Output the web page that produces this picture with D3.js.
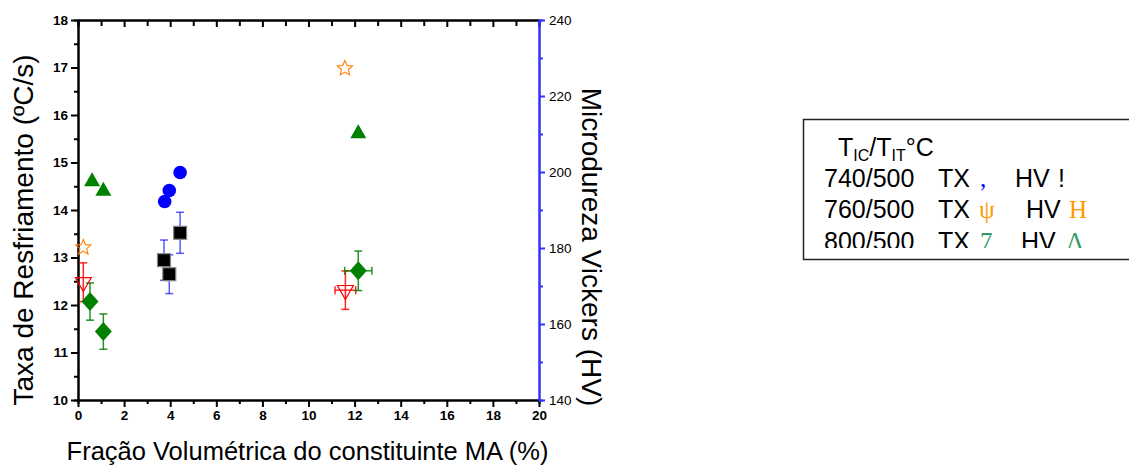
<!DOCTYPE html>
<html>
<head>
<meta charset="utf-8">
<script src="https://cdn.jsdelivr.net/npm/d3@7/dist/d3.min.js"></script>
<style>
  body { margin: 0; background: #fff; }
  svg text { font-family: "Liberation Sans", Arial, sans-serif; }
</style>
</head>
<body>
<div id="chart"></div>
<script>
// taxa de resfriamento (TX, eixo esquerdo)
var tx740 = [[3.76, 14.18], [3.96, 14.41], [4.43, 14.79]];
var tx760 = [[0.23, 13.21], [11.58, 16.98]];
var tx800 = [[0.61, 14.6], [1.1, 14.4], [12.16, 15.61]];

// microdureza (HV, eixo direito): x, hv, erro hv, erro x
var hv740 = [[3.73, 176.8, 5.3, 0], [3.96, 173.1, 5.1, 0], [4.43, 184.0, 5.4, 0]];
var hv760 = [[0.23, 171.0, 5.1, 0], [11.6, 168.9, 5.05, 0.45]];
var hv800 = [[0.52, 165.9, 4.9, 0], [1.1, 158.0, 4.65, 0], [12.16, 174.0, 5.2, 0.59]];

var xDomain = [0, 20];
var txDomain = [10, 18];
var hvDomain = [140, 240];
var xTicks = [0, 2, 4, 6, 8, 10, 12, 14, 16, 18, 20];
var txTicks = [10, 11, 12, 13, 14, 15, 16, 17, 18];
var hvTicks = [140, 160, 180, 200, 220, 240];

var W = 1129, H = 467;
var pLeft = 78, pRight = 539, pTop = 20, pBottom = 400;

var svg = d3.select("#chart").append("svg")
	.attr("width", W).attr("height", H);

var x = d3.scaleLinear().domain(xDomain).range([pLeft, pRight]);
var yTx = d3.scaleLinear().domain(txDomain).range([pBottom, pTop]);
var yHv = d3.scaleLinear().domain(hvDomain).range([pBottom, pTop]);

function minors(ticks, step) {
	var out = [];
	for (var i = 0; i < ticks.length - 1; i++) out.push(ticks[i] + step);
	return out;
}

/*
 * eixos
 */
var gB = svg.append("g").attr("transform", "translate(0," + pBottom + ")");
gB.call(d3.axisBottom(x).tickValues(xTicks).tickSize(7).tickSizeOuter(0).tickPadding(3));
gB.append("g").call(d3.axisBottom(x).tickValues(minors(xTicks, 1)).tickSize(4).tickFormat(""));

var gT = svg.append("g").attr("transform", "translate(0," + pTop + ")");
gT.call(d3.axisBottom(x).tickValues(xTicks).tickSize(7).tickSizeOuter(0).tickFormat(""));
gT.append("g").call(d3.axisBottom(x).tickValues(minors(xTicks, 1)).tickSize(6).tickFormat(""));

var gL = svg.append("g").attr("transform", "translate(" + pLeft + ",0)");
gL.call(d3.axisLeft(yTx).tickValues(txTicks).tickSize(7).tickSizeOuter(0).tickPadding(3));
gL.append("g").call(d3.axisLeft(yTx).tickValues(minors(txTicks, 0.5)).tickSize(4).tickFormat(""));

var gR = svg.append("g").attr("transform", "translate(" + pRight + ",0)");
gR.call(d3.axisRight(yHv).tickValues(hvTicks).tickSize(6).tickSizeOuter(0).tickPadding(4));
gR.append("g").call(d3.axisRight(yHv).tickValues(minors(hvTicks, 10)).tickSize(4).tickFormat(""));

[gB, gT, gL].forEach(function(g) {
	g.selectAll("path, line").attr("stroke", "#000").attr("stroke-width", 2);
	g.selectAll("text").attr("fill", "#000").style("font-size", "13.5px").style("font-weight", "bold");
});
gR.selectAll("path, line").attr("stroke", "#3333ff").attr("stroke-width", 2);
gR.selectAll("text").attr("fill", "#000").style("font-size", "13.5px");

/*
 * titulos
 */
svg.append("text")
	.attr("transform", "translate(33,230) rotate(-90)")
	.attr("text-anchor", "middle")
	.style("font-size", "28px")
	.text("Taxa de Resfriamento (ºC/s)");

svg.append("text")
	.attr("transform", "translate(582,247) rotate(90)")
	.attr("text-anchor", "middle")
	.style("font-size", "28px")
	.text("Microdureza Vickers (HV)");

svg.append("text")
	.attr("x", (pLeft + pRight) / 2 - 1).attr("y", 460)
	.attr("text-anchor", "middle")
	.style("font-size", "25.5px")
	.text("Fração Volumétrica do constituinte MA (%)");

/*
 * barras de erro
 */
function errBars(data, color, opacity) {
	var g = svg.append("g").attr("stroke", color).attr("stroke-width", 1.5)
		.attr("stroke-opacity", opacity).attr("fill", "none");
	data.forEach(function(d) {
		var cx = x(d[0]), cy = yHv(d[1]);
		var y0 = yHv(d[1] + d[2]), y1 = yHv(d[1] - d[2]);
		g.append("line").attr("x1", cx).attr("x2", cx).attr("y1", y0).attr("y2", y1);
		g.append("line").attr("x1", cx - 4).attr("x2", cx + 4).attr("y1", y0).attr("y2", y0);
		g.append("line").attr("x1", cx - 4).attr("x2", cx + 4).attr("y1", y1).attr("y2", y1);
		if (d[3] > 0) {
			var x0 = x(d[0] - d[3]), x1 = x(d[0] + d[3]);
			g.append("line").attr("x1", x0).attr("x2", x1).attr("y1", cy).attr("y2", cy);
			g.append("line").attr("x1", x0).attr("x2", x0).attr("y1", cy - 4).attr("y2", cy + 4);
			g.append("line").attr("x1", x1).attr("x2", x1).attr("y1", cy - 4).attr("y2", cy + 4);
		}
	});
}

errBars(hv740, "#0000ff", 0.65);
errBars(hv760, "#ff0000", 0.85);
errBars(hv800, "#008000", 0.85);

/*
 * simbolos
 */
function triUp(w, h) {
	return "M0," + (-2 * h / 3) + "L" + (w / 2) + "," + (h / 3) + "L" + (-w / 2) + "," + (h / 3) + "Z";
}
function triDown(w, h) {
	return "M0," + (2 * h / 3) + "L" + (w / 2) + "," + (-h / 3) + "L" + (-w / 2) + "," + (-h / 3) + "Z";
}
function diamond(w, h) {
	return "M0," + (-h) + "L" + w + ",0L0," + h + "L" + (-w) + ",0Z";
}
function star(ro, ri) {
	var p = "";
	for (var i = 0; i < 10; i++) {
		var r = i % 2 ? ri : ro;
		var a = -Math.PI / 2 + i * Math.PI / 5;
		p += (i ? "L" : "M") + (r * Math.cos(a)).toFixed(2) + "," + (r * Math.sin(a)).toFixed(2);
	}
	return p + "Z";
}

svg.append("g").selectAll("path").data(tx800).enter().append("path")
	.attr("d", triUp(16, 14))
	.attr("transform", function(d) { return "translate(" + x(d[0]) + "," + yTx(d[1]) + ")"; })
	.attr("fill", "#008000");

svg.append("g").selectAll("circle").data(tx740).enter().append("circle")
	.attr("cx", function(d) { return x(d[0]); })
	.attr("cy", function(d) { return yTx(d[1]); })
	.attr("r", 6.8)
	.attr("fill", "#0000ff");

svg.append("g").selectAll("path").data(tx760).enter().append("path")
	.attr("d", star(8, 3.6))
	.attr("transform", function(d) { return "translate(" + x(d[0]) + "," + yTx(d[1]) + ")"; })
	.attr("fill", "none").attr("stroke", "#ff8000").attr("stroke-width", 1.1);

svg.append("g").selectAll("rect").data(hv740).enter().append("rect")
	.attr("x", function(d) { return x(d[0]) - 6.5; })
	.attr("y", function(d) { return yHv(d[1]) - 6.5; })
	.attr("width", 13).attr("height", 13)
	.attr("fill", "#000").attr("stroke", "#888").attr("stroke-width", 1.2);

svg.append("g").selectAll("path").data(hv760).enter().append("path")
	.attr("d", triDown(16, 14))
	.attr("transform", function(d) { return "translate(" + x(d[0]) + "," + yHv(d[1]) + ")"; })
	.attr("fill", "none").attr("stroke", "#ff0000").attr("stroke-width", 1.2);

svg.append("g").selectAll("path").data(hv800).enter().append("path")
	.attr("d", diamond(8.5, 9.5))
	.attr("transform", function(d) { return "translate(" + x(d[0]) + "," + yHv(d[1]) + ")"; })
	.attr("fill", "#008000");

/*
 * legenda
 */
var leg = svg.append("g");
svg.append("clipPath").attr("id", "legclip")
	.append("rect").attr("x", 800).attr("y", 115).attr("width", 340).attr("height", 133);

leg.append("path")
	.attr("d", "M1132,119.5H803.5V259.5H1132")
	.attr("fill", "none").attr("stroke", "#222").attr("stroke-width", 1.5);

var lt = leg.append("g").attr("clip-path", "url(#legclip)").style("font-size", "25px");

var head = lt.append("text").attr("x", 838).attr("y", 156);
head.append("tspan").text("T");
head.append("tspan").attr("dy", 5).style("font-size", "16px").text("IC");
head.append("tspan").attr("dy", -5).text("/T");
head.append("tspan").attr("dy", 5).style("font-size", "16px").text("IT");
head.append("tspan").attr("dy", -5).text("°C");

var rows = [
	{ y: 187, t: "740/500", g1: ",", c1: "#0000ff", x1: 980, hx: 1015, g2: "!", c2: "#000", x2: 1058, serif2: false },
	{ y: 218, t: "760/500", g1: "ψ", c1: "#ff9900", x1: 979, hx: 1026, g2: "H", c2: "#ff9900", x2: 1069, serif2: true },
	{ y: 250, t: "800/500", g1: "7", c1: "#339966", x1: 980, hx: 1021, g2: "Λ", c2: "#339966", x2: 1066, serif2: true }
];

rows.forEach(function(r) {
	lt.append("text").attr("x", 824).attr("y", r.y).text(r.t);
	lt.append("text").attr("x", 938).attr("y", r.y).text("TX");
	lt.append("text").attr("x", r.x1).attr("y", r.y).attr("fill", r.c1)
		.style("font-family", "'Liberation Serif', serif").text(r.g1);
	lt.append("text").attr("x", r.hx).attr("y", r.y).text("HV");
	lt.append("text").attr("x", r.x2).attr("y", r.y).attr("fill", r.c2)
		.style("font-family", r.serif2 ? "'Liberation Serif', serif" : null).text(r.g2);
});
</script>
</body>
</html>
